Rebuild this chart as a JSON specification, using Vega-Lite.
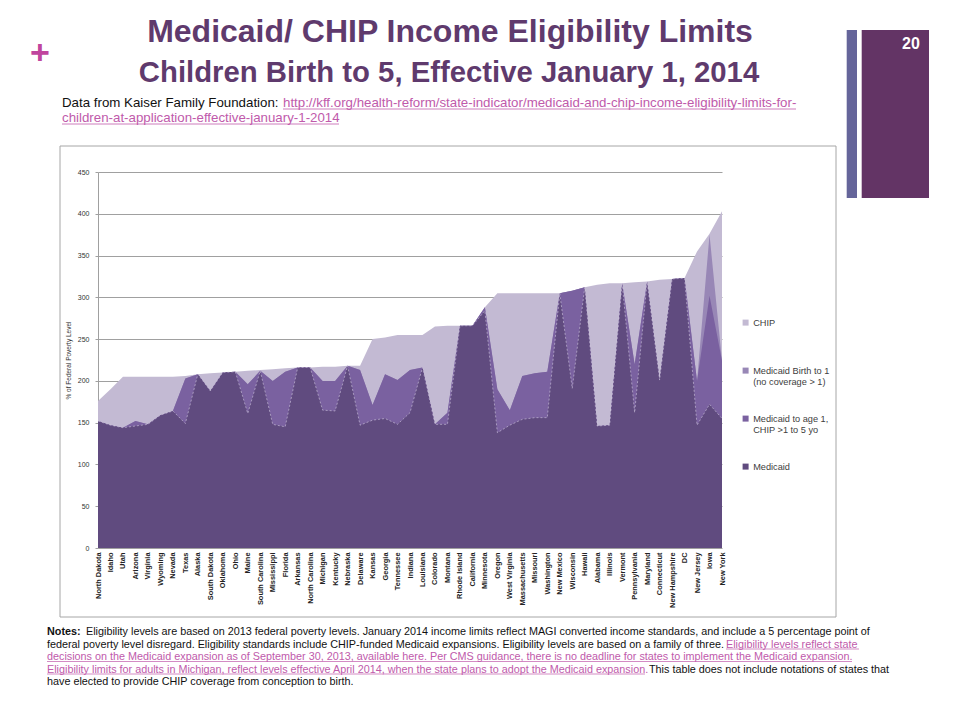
{
  "$schema": "https://vega.github.io/schema/vega-lite/v6.json",
  "width": 624,
  "height": 376,
  "autosize": {"type": "none"},
  "padding": {"left": 98, "top": 172, "right": 238, "bottom": 172},
  "background": "white",
  "config": {
    "view": {"stroke": null},
    "font": "Liberation Sans",
    "axisY": {"grid": true, "gridColor": "#a0a0a0", "gridWidth": 1, "domainColor": "#a0a0a0", "tickColor": "#a0a0a0", "tickSize": 3, "labelFontSize": 7, "labelColor": "#333333", "labelPadding": 6, "titleFontSize": 6.5, "titleFontWeight": "normal", "titleColor": "#333333", "titlePadding": 6},
    "axisX": {"labelAngle": -90, "labelFontSize": 7.4, "labelFontWeight": "bold", "labelColor": "#222222", "ticks": false, "domain": false, "grid": false, "labelPadding": 4},
    "legend": {"orient": "none", "legendX": 643, "legendY": 146, "symbolType": "square", "symbolSize": 36, "symbolStrokeWidth": 0, "labelFontSize": 9.2, "labelColor": "#404040", "rowPadding": 27, "gridAlign": "all", "labelLimit": 300, "labelOffset": 3}
  },
  "datasets": {
    "states": [
      {"state": "North Dakota", "medicaid": 152, "age1": 152, "birth1": 152, "chip": 176},
      {"state": "Idaho", "medicaid": 147, "age1": 147, "birth1": 147, "chip": 190},
      {"state": "Utah", "medicaid": 144, "age1": 144, "birth1": 144, "chip": 205},
      {"state": "Arizona", "medicaid": 146, "age1": 152, "birth1": 152, "chip": 205},
      {"state": "Virginia", "medicaid": 148, "age1": 148, "birth1": 148, "chip": 205},
      {"state": "Wyoming", "medicaid": 159, "age1": 159, "birth1": 159, "chip": 205},
      {"state": "Nevada", "medicaid": 164, "age1": 164, "birth1": 164, "chip": 205},
      {"state": "Texas", "medicaid": 149, "age1": 203, "birth1": 203, "chip": 206},
      {"state": "Alaska", "medicaid": 208, "age1": 208, "birth1": 208, "chip": 208},
      {"state": "South Dakota", "medicaid": 188, "age1": 188, "birth1": 188, "chip": 209},
      {"state": "Oklahoma", "medicaid": 210, "age1": 210, "birth1": 210, "chip": 210},
      {"state": "Ohio", "medicaid": 211, "age1": 211, "birth1": 211, "chip": 211},
      {"state": "Maine", "medicaid": 161, "age1": 196, "birth1": 196, "chip": 212},
      {"state": "South Carolina", "medicaid": 212, "age1": 212, "birth1": 212, "chip": 213},
      {"state": "Mississippi", "medicaid": 148, "age1": 200, "birth1": 200, "chip": 214},
      {"state": "Florida", "medicaid": 145, "age1": 211, "birth1": 211, "chip": 215},
      {"state": "Arkansas", "medicaid": 216, "age1": 216, "birth1": 216, "chip": 216},
      {"state": "North Carolina", "medicaid": 216, "age1": 216, "birth1": 216, "chip": 216},
      {"state": "Michigan", "medicaid": 165, "age1": 200, "birth1": 200, "chip": 217},
      {"state": "Kentucky", "medicaid": 164, "age1": 200, "birth1": 200, "chip": 217},
      {"state": "Nebraska", "medicaid": 218, "age1": 218, "birth1": 218, "chip": 218},
      {"state": "Delaware", "medicaid": 147, "age1": 213, "birth1": 213, "chip": 218},
      {"state": "Kansas", "medicaid": 153, "age1": 171, "birth1": 171, "chip": 250},
      {"state": "Georgia", "medicaid": 155, "age1": 208, "birth1": 208, "chip": 252},
      {"state": "Tennessee", "medicaid": 148, "age1": 201, "birth1": 201, "chip": 255},
      {"state": "Indiana", "medicaid": 162, "age1": 213, "birth1": 213, "chip": 255},
      {"state": "Louisiana", "medicaid": 216, "age1": 216, "birth1": 216, "chip": 255},
      {"state": "Colorado", "medicaid": 148, "age1": 148, "birth1": 148, "chip": 265},
      {"state": "Montana", "medicaid": 148, "age1": 162, "birth1": 162, "chip": 266},
      {"state": "Rhode Island", "medicaid": 266, "age1": 266, "birth1": 266, "chip": 266},
      {"state": "California", "medicaid": 266, "age1": 266, "birth1": 266, "chip": 266},
      {"state": "Minnesota", "medicaid": 284, "age1": 288, "birth1": 288, "chip": 288},
      {"state": "Oregon", "medicaid": 138, "age1": 190, "birth1": 190, "chip": 305},
      {"state": "West Virginia", "medicaid": 147, "age1": 165, "birth1": 165, "chip": 305},
      {"state": "Massachusetts", "medicaid": 154, "age1": 206, "birth1": 206, "chip": 305},
      {"state": "Missouri", "medicaid": 156, "age1": 209, "birth1": 209, "chip": 305},
      {"state": "Washington", "medicaid": 156, "age1": 211, "birth1": 211, "chip": 305},
      {"state": "New Mexico", "medicaid": 305, "age1": 305, "birth1": 305, "chip": 305},
      {"state": "Wisconsin", "medicaid": 191, "age1": 308, "birth1": 308, "chip": 308},
      {"state": "Hawaii", "medicaid": 312, "age1": 312, "birth1": 312, "chip": 312},
      {"state": "Alabama", "medicaid": 146, "age1": 146, "birth1": 146, "chip": 315},
      {"state": "Illinois", "medicaid": 147, "age1": 147, "birth1": 147, "chip": 317},
      {"state": "Vermont", "medicaid": 317, "age1": 317, "birth1": 317, "chip": 317},
      {"state": "Pennsylvania", "medicaid": 162, "age1": 220, "birth1": 220, "chip": 318},
      {"state": "Maryland", "medicaid": 319, "age1": 319, "birth1": 319, "chip": 319},
      {"state": "Connecticut", "medicaid": 201, "age1": 201, "birth1": 201, "chip": 321},
      {"state": "New Hampshire", "medicaid": 322, "age1": 322, "birth1": 322, "chip": 322},
      {"state": "DC", "medicaid": 323, "age1": 323, "birth1": 323, "chip": 323},
      {"state": "New Jersey", "medicaid": 147, "age1": 200, "birth1": 200, "chip": 355},
      {"state": "Iowa", "medicaid": 172, "age1": 302, "birth1": 375, "chip": 376},
      {"state": "New York", "medicaid": 155, "age1": 224, "birth1": 224, "chip": 403}
    ]
  },
  "layer": [
    {
      "data": {"values": [{}]},
      "mark": {"type": "rect", "x": -38, "x2": 738, "y": -26, "y2": 445, "fill": "transparent", "stroke": "#a6a6a6", "strokeWidth": 1},
      "encoding": {}
    },
    {
      "data": {"name": "states"},
      "mark": {"type": "area"},
      "encoding": {
        "x": {"field": "state", "type": "nominal", "sort": null, "scale": {"type": "point", "padding": 0}, "title": null},
        "y": {"field": "chip", "type": "quantitative", "stack": null, "scale": {"domain": [0, 450], "nice": false}, "axis": {"values": [0, 50, 100, 150, 200, 250, 300, 350, 400, 450]}, "title": "% of Federal Poverty Level"},
        "color": {"datum": "CHIP", "type": "nominal", "scale": {"domain": ["CHIP", "Medicaid Birth to 1|(no coverage > 1)", "Medicaid to age 1,|CHIP >1 to 5 yo", "Medicaid"], "range": ["#c3bad3", "#9887b6", "#7a61a0", "#604b7f"]}, "legend": {"title": null, "labelExpr": "split(datum.label, '|')"}}
      }
    },
    {
      "data": {"name": "states"},
      "mark": {"type": "area"},
      "encoding": {
        "x": {"field": "state", "type": "nominal", "sort": null, "title": null},
        "y": {"field": "birth1", "type": "quantitative", "stack": null, "title": "% of Federal Poverty Level"},
        "color": {"datum": "Medicaid Birth to 1|(no coverage > 1)", "type": "nominal"}
      }
    },
    {
      "data": {"name": "states"},
      "mark": {"type": "area"},
      "encoding": {
        "x": {"field": "state", "type": "nominal", "sort": null, "title": null},
        "y": {"field": "age1", "type": "quantitative", "stack": null, "title": "% of Federal Poverty Level"},
        "color": {"datum": "Medicaid to age 1,|CHIP >1 to 5 yo", "type": "nominal"}
      }
    },
    {
      "data": {"name": "states"},
      "mark": {"type": "area"},
      "encoding": {
        "x": {"field": "state", "type": "nominal", "sort": null, "title": null},
        "y": {"field": "medicaid", "type": "quantitative", "stack": null, "title": "% of Federal Poverty Level"},
        "color": {"datum": "Medicaid", "type": "nominal"}
      }
    },
    {
      "data": {"name": "states"},
      "mark": {"type": "line", "stroke": "#d6cfe2", "strokeWidth": 0.7, "strokeDash": [2, 2], "opacity": 0.8},
      "encoding": {
        "x": {"field": "state", "type": "nominal", "sort": null, "title": null},
        "y": {"field": "medicaid", "type": "quantitative", "stack": null, "title": "% of Federal Poverty Level"}
      }
    },
    {"data": {"values": [{}]}, "mark": {"type": "rect", "x": 748.7, "x2": 759, "y": -142, "y2": 26, "fill": "#65659a"}, "encoding": {}},
    {"data": {"values": [{}]}, "mark": {"type": "rect", "x": 763.7, "x2": 831, "y": -142, "y2": 26, "fill": "#633465"}, "encoding": {}},
    {"data": {"values": [{}]}, "mark": {"type": "text", "x": 813, "y": -123, "text": "20", "align": "center", "baseline": "alphabetic", "fontSize": 16, "fontWeight": "bold", "color": "#ffffff", "font": "Liberation Sans"}, "encoding": {}},
    {"data": {"values": [{}]}, "mark": {"type": "text", "x": -58, "y": -108, "text": "+", "align": "center", "baseline": "alphabetic", "fontSize": 34, "fontWeight": "bold", "color": "#c0459e", "font": "Liberation Sans"}, "encoding": {}},
    {"data": {"values": [{}]}, "mark": {"type": "text", "x": 352, "y": -130, "text": "Medicaid/ CHIP Income Eligibility Limits", "align": "center", "baseline": "alphabetic", "fontSize": 32, "fontWeight": "bold", "color": "#5f3a6d", "font": "Liberation Sans"}, "encoding": {}},
    {"data": {"values": [{}]}, "mark": {"type": "text", "x": 351, "y": -90, "text": "Children Birth to 5, Effective January 1, 2014", "align": "center", "baseline": "alphabetic", "fontSize": 29.3, "fontWeight": "bold", "color": "#5f3a6d", "font": "Liberation Sans"}, "encoding": {}},
    {"data": {"values": [{}]}, "mark": {"type": "text", "x": -36, "y": -65, "text": "Data from Kaiser Family Foundation: ", "align": "left", "baseline": "alphabetic", "fontSize": 13.3, "color": "#111111", "font": "Liberation Sans"}, "encoding": {}},
    {"data": {"values": [{}]}, "mark": {"type": "text", "x": 185, "y": -65, "text": "http://kff.org/health-reform/state-indicator/medicaid-and-chip-income-eligibility-limits-for-", "align": "left", "baseline": "alphabetic", "fontSize": 13.3, "color": "#c05aab", "font": "Liberation Sans"}, "encoding": {}},
    {"data": {"values": [{}]}, "mark": {"type": "text", "x": -36, "y": -50, "text": "children-at-application-effective-january-1-2014", "align": "left", "baseline": "alphabetic", "fontSize": 13.3, "color": "#c05aab", "font": "Liberation Sans"}, "encoding": {}},
    {"data": {"values": [{}]}, "mark": {"type": "rule", "stroke": "#c05aab", "strokeWidth": 0.8}, "encoding": {"x": {"value": 185}, "x2": {"value": 698}, "y": {"value": -63}}},
    {"data": {"values": [{}]}, "mark": {"type": "rule", "stroke": "#c05aab", "strokeWidth": 0.8}, "encoding": {"x": {"value": -36}, "x2": {"value": 241}, "y": {"value": -48}}},
    {"data": {"values": [{}]}, "mark": {"type": "text", "x": -51, "y": 463, "text": "Notes:", "align": "left", "baseline": "alphabetic", "fontSize": 10.8, "fontWeight": "bold", "color": "#111111", "font": "Liberation Sans"}, "encoding": {}},
    {"data": {"values": [{}]}, "mark": {"type": "text", "x": -12, "y": 463, "text": "Eligibility levels are based on 2013 federal poverty levels. January 2014 income limits reflect MAGI converted income standards, and include a 5 percentage point of", "align": "left", "baseline": "alphabetic", "fontSize": 10.8, "color": "#111111", "font": "Liberation Sans"}, "encoding": {}},
    {"data": {"values": [{}]}, "mark": {"type": "text", "x": -51, "y": 475.5, "text": "federal poverty level disregard. Eligibility standards include CHIP-funded Medicaid expansions. Eligibility levels are based on a family of three.", "align": "left", "baseline": "alphabetic", "fontSize": 10.8, "color": "#111111", "font": "Liberation Sans"}, "encoding": {}},
    {"data": {"values": [{}]}, "mark": {"type": "text", "x": 628, "y": 475.5, "text": "Eligibility levels reflect state", "align": "left", "baseline": "alphabetic", "fontSize": 10.8, "color": "#c05aab", "font": "Liberation Sans"}, "encoding": {}},
    {"data": {"values": [{}]}, "mark": {"type": "text", "x": -51, "y": 488, "text": "decisions on the Medicaid expansion as of September 30, 2013, available here. Per CMS guidance, there is no deadline for states to implement the Medicaid expansion.", "align": "left", "baseline": "alphabetic", "fontSize": 10.8, "color": "#c05aab", "font": "Liberation Sans"}, "encoding": {}},
    {"data": {"values": [{}]}, "mark": {"type": "text", "x": -51, "y": 500.5, "text": "Eligibility limits for adults in Michigan, reflect levels effective April 2014, when the state plans to adopt the Medicaid expansion.", "align": "left", "baseline": "alphabetic", "fontSize": 10.8, "color": "#c05aab", "font": "Liberation Sans"}, "encoding": {}},
    {"data": {"values": [{}]}, "mark": {"type": "text", "x": 551, "y": 500.5, "text": "This table does not include notations of states that", "align": "left", "baseline": "alphabetic", "fontSize": 10.8, "color": "#111111", "font": "Liberation Sans"}, "encoding": {}},
    {"data": {"values": [{}]}, "mark": {"type": "text", "x": -51, "y": 513, "text": "have elected to provide CHIP coverage from conception to birth.", "align": "left", "baseline": "alphabetic", "fontSize": 10.8, "color": "#111111", "font": "Liberation Sans"}, "encoding": {}},
    {"data": {"values": [{}]}, "mark": {"type": "rule", "stroke": "#c05aab", "strokeWidth": 0.7}, "encoding": {"x": {"value": 628}, "x2": {"value": 761}, "y": {"value": 477}}},
    {"data": {"values": [{}]}, "mark": {"type": "rule", "stroke": "#c05aab", "strokeWidth": 0.7}, "encoding": {"x": {"value": -51}, "x2": {"value": 754}, "y": {"value": 489.5}}},
    {"data": {"values": [{}]}, "mark": {"type": "rule", "stroke": "#c05aab", "strokeWidth": 0.7}, "encoding": {"x": {"value": -51}, "x2": {"value": 547}, "y": {"value": 502}}}
  ]
}
